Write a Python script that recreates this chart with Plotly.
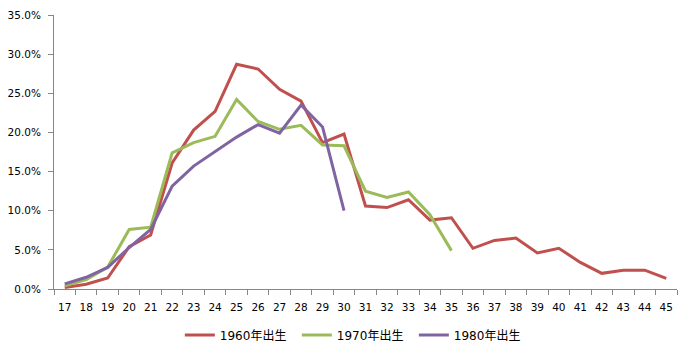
import plotly.graph_objects as go

ages = [str(a) for a in range(17, 46)]

s1960 = [0.2, 0.6, 1.4, 5.4, 6.9, 16.1, 20.3, 22.7, 28.7, 28.1, 25.5, 24.0, 18.7, 19.8,
         10.6, 10.4, 11.4, 8.8, 9.1, 5.2, 6.2, 6.5, 4.6, 5.2, 3.4, 2.0, 2.4, 2.4, 1.35]
s1970 = [0.4, 1.2, 2.8, 7.6, 7.9, 17.4, 18.7, 19.5, 24.2, 21.4, 20.4, 20.9, 18.4, 18.3,
         12.5, 11.7, 12.4, 9.5, 4.9]
s1980 = [0.65, 1.5, 2.75, 5.3, 7.6, 13.15, 15.7, 17.6, 19.4, 21.0, 19.9, 23.5, 20.7, 10.0]

names = ["1960年出生", "1970年出生", "1980年出生"]
colors = ["#C0504D", "#9BBB59", "#8064A2"]

fig = go.Figure()
for name, vals, col in zip(names, [s1960, s1970, s1980], colors):
    fig.add_trace(go.Scatter(
        x=ages[:len(vals)], y=[v / 100 for v in vals], name=name, mode="lines",
        line=dict(color=col, width=3),
    ))

fig.update_layout(
    width=683, height=348,
    margin=dict(l=46, r=14, t=7, b=66),
    plot_bgcolor="white", paper_bgcolor="white",
    font=dict(family="DejaVu Sans, Noto Sans CJK SC", size=10.5, color="#000000"),
    showlegend=True,
    legend=dict(orientation="h", x=0.202, xanchor="left", y=-0.164, yanchor="middle",
                font=dict(family="DejaVu Sans, Noto Sans CJK SC", size=12),
                itemwidth=30, tracegroupgap=0, entrywidth=72, entrywidthmode="pixels"),
)
fig.update_xaxes(
    type="category", categoryorder="array", categoryarray=ages,
    range=[-0.5, len(ages) - 0.5], automargin=False, tickangle=0,
    showline=True, linecolor="#868686", linewidth=1,
    ticks="outside", tickson="boundaries", ticklen=5, tickcolor="#868686",
    ticklabelstandoff=8,
    showgrid=False, zeroline=False, tickfont=dict(size=10.5),
)
fig.update_yaxes(
    range=[0, 0.35], dtick=0.05, tick0=0, tickformat=".1%", automargin=False,
    showline=True, linecolor="#868686", linewidth=1,
    ticks="outside", ticklen=5, tickcolor="#868686",
    ticklabelstandoff=5,
    showgrid=False, zeroline=False, tickfont=dict(size=10.5),
)

fig.write_html("out.html")
